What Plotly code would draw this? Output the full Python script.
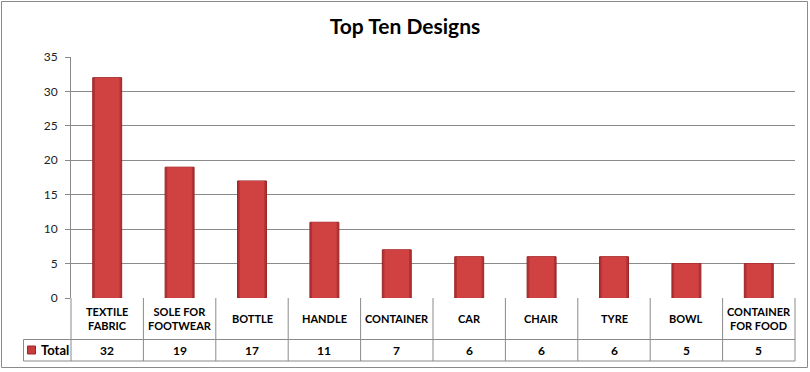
import plotly.graph_objects as go

# ---- data ----
categories = ["TEXTILE<br>FABRIC", "SOLE FOR<br>FOOTWEAR", "BOTTLE", "HANDLE", "CONTAINER",
              "CAR", "CHAIR", "TYRE", "BOWL", "CONTAINER<br>FOR FOOD"]
totals = [32, 19, 17, 11, 7, 6, 6, 6, 5, 5]
series_name = "Total"
y_ticks = [0, 5, 10, 15, 20, 25, 30, 35]
title_text = "Top Ten Designs"

# ---- layout geometry (pixels) ----
W, H = 810, 372
ML, MR, MT, MB = 71, 15, 57, 74
PW, PH = W - ML - MR, H - MT - MB


def px_x(px):
    return (px - ML) / PW


def px_y(py):
    return (H - MB - py) / PH


FONT = "Lato, 'Open Sans', Arial, sans-serif"
LINE = "#8a8a8a"
idx = list(range(len(categories)))

fig = go.Figure()
fig.add_trace(go.Bar(
    x=idx, y=totals, name=series_name, width=0.4,
    marker=dict(color="#B23132", line=dict(color="#9A2728", width=1)),
    showlegend=False, hoverinfo="y",
))
fig.add_trace(go.Bar(
    x=idx, y=totals, name=series_name, width=0.34,
    marker=dict(color="#D04142", line=dict(width=0)),
    showlegend=False, hoverinfo="skip",
))

shapes = []
annotations = []
row1_bot, row2_bot = 339.5, 361.0
table_top = H - MB
for i in idx[1:]:
    shapes.append(dict(type="line", xref="x", yref="paper", x0=i - 0.5, x1=i - 0.5,
                       y0=px_y(table_top), y1=px_y(row2_bot), line=dict(color=LINE, width=1)))
for xp in (0, 1):
    shapes.append(dict(type="line", xref="paper", yref="paper", x0=xp, x1=xp,
                       y0=px_y(table_top), y1=px_y(row2_bot), line=dict(color=LINE, width=1)))
shapes.append(dict(type="line", xref="paper", yref="paper", x0=px_x(23.5), x1=px_x(23.5),
                   y0=px_y(row1_bot), y1=px_y(row2_bot), line=dict(color=LINE, width=1)))
for yy in (row1_bot, row2_bot):
    shapes.append(dict(type="line", xref="paper", yref="paper", x0=px_x(23.5), x1=1,
                       y0=px_y(yy), y1=px_y(yy), line=dict(color=LINE, width=1)))
shapes.append(dict(type="rect", xref="paper", yref="paper", x0=px_x(27.5), x1=px_x(35.5),
                   y0=px_y(346), y1=px_y(354), fillcolor="#C93C3D",
                   line=dict(color="#9A2728", width=1)))
shapes.append(dict(type="rect", xref="paper", yref="paper", x0=px_x(1.5), x1=px_x(807.5),
                   y0=px_y(367.5), y1=px_y(1.5), line=dict(color="#8a8a8a", width=1)))

for i, (c, v) in enumerate(zip(categories, totals)):
    annotations.append(dict(x=i, y=px_y((table_top + row1_bot) / 2), xref="x", yref="paper",
                            text=f"<b>{c}</b>", showarrow=False, xanchor="center", yanchor="middle",
                            font=dict(family=FONT, size=11, color="#000")))
    annotations.append(dict(x=i, y=px_y((row1_bot + row2_bot) / 2), xref="x", yref="paper",
                            text=f"<b>{v}</b>", showarrow=False, xanchor="center", yanchor="middle",
                            font=dict(family=FONT, size=12, color="#000")))
annotations.append(dict(x=px_x(39), y=px_y((row1_bot + row2_bot) / 2), xref="paper", yref="paper",
                        text=f"<b>{series_name}</b>", showarrow=False, xanchor="left", yanchor="middle",
                        font=dict(family=FONT, size=13, color="#000")))

fig.update_layout(
    width=W, height=H,
    margin=dict(l=ML, r=MR, t=MT, b=MB),
    paper_bgcolor="white", plot_bgcolor="white",
    title=dict(text=f"<b>{title_text}</b>", x=0.5, xanchor="center", y=1 - 27 / H, yanchor="middle",
               yref="container", font=dict(family=FONT, size=21, color="#000")),
    barmode="overlay",
    xaxis=dict(range=[-0.5, len(categories) - 0.5], showticklabels=False, showgrid=False,
               zeroline=False, showline=False, fixedrange=True),
    yaxis=dict(range=[0, 35], tickvals=y_ticks, showgrid=True, gridcolor=LINE, gridwidth=1,
               zeroline=False, showline=True, linecolor=LINE, linewidth=1,
               ticks="outside", ticklen=5, tickcolor=LINE, tickwidth=1, ticklabelstandoff=5,
               tickfont=dict(family=FONT, size=12, color="#222")),
    shapes=shapes, annotations=annotations,
)

fig.write_html("out.html", config={"displayModeBar": False},
               post_script="document.body.style.margin='0';document.body.style.overflow='hidden';")
